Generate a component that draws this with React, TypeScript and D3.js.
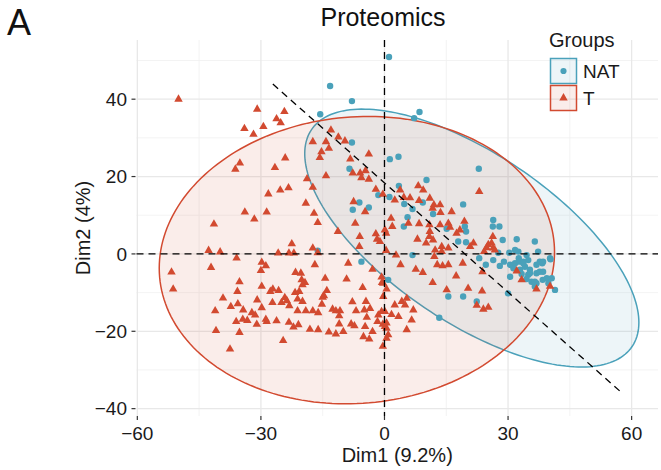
import React from "react";
import * as d3 from "d3";

// PCA individuals, Dim1 / Dim2 scores
const natPoints: [number, number][] = [
  [1.1, 50.9], [-13.2, 43.4], [-7.9, 39.5], [-15.6, 36.1], [-7.9, 28.8], [-8.5, 22.0],
  [1.3, 24.5], [3.4, 25.1], [-6.1, 13.3], [-3.8, 12.0], [-7.7, 11.4], [-1.5, 15.2],
  [1.2, 14.7], [-16.2, 0.8], [-5.6, -2.0], [0.9, -6.7], [8.5, 36.7], [7.2, 35.1],
  [22.9, 22.0], [10.2, 19.1], [3.5, 17.6], [4.8, 12.9], [9.3, 13.3], [6.8, 11.6],
  [19.1, 12.8], [11.8, 10.3], [5.6, 9.5], [4.7, 7.1], [15.1, 6.5], [19.5, 7.1],
  [19.8, 5.8], [17.9, 3.2], [19.8, 3.0], [26.4, 8.8], [26.3, 7.1], [27.9, 7.1],
  [28.7, 3.6], [32.1, 3.8], [36.5, 3.2], [27.6, 0.3], [30.3, 0.3], [31.7, 1.0],
  [32.5, 0.6], [34.5, -0.3], [37.3, 0.6], [40.2, -1.1], [6.8, -0.3], [23.0, -1.1],
  [32.6, -1.1], [24.6, -2.8], [26.4, -1.6], [29.0, -2.0], [28.0, -3.1], [30.5, -2.8],
  [31.7, -2.4], [32.7, -2.0], [33.7, -2.0], [34.9, -1.6], [37.7, -2.0], [38.3, -2.4],
  [36.9, -2.8], [31.3, -3.7], [32.9, -4.1], [34.1, -3.3], [35.3, -4.1], [33.3, -5.2],
  [34.9, -5.4], [36.9, -5.0], [38.5, -4.6], [30.5, -5.9], [34.5, -6.5], [35.7, -7.2],
  [36.9, -7.6], [38.4, -6.7], [39.4, -6.3], [40.6, -6.3], [39.8, -7.6], [41.4, -9.3],
  [36.5, -8.4], [30.0, -10.2], [15.5, -11.0], [19.1, -11.0], [22.4, -12.3], [13.3, -16.5],
  [38.5, -2.0], [40.3, -1.4], [37.7, -4.6], [33.7, -2.4], [35.3, -5.0], [36.5, -7.2],
];

const tPoints: [number, number][] = [
  [-50, 40], [-30.9, 37.4], [-24.3, 36.8], [-26.2, 34.9], [-25.2, 33.9], [-34.0, 32.4],
  [-29.4, 32.9], [-31.8, 30.9], [-13.0, 32.0], [-11.2, 30.2], [-9.6, 29.2], [-17.4, 29.0],
  [-14.2, 29.0], [-13.5, 27.3], [-15.3, 26.4], [-15.7, 24.9], [-3.8, 25.8], [-8.3, 24.5],
  [-24.1, 24.8], [-35.1, 23.5], [-36.2, 21.9], [-26.6, 22.3], [-7.7, 20.9], [-5.9, 20.9],
  [-4.6, 21.5], [-5.6, 19.7], [-3.8, 19.3], [-14.2, 20.2], [-18.8, 19.4], [-17.4, 17.2],
  [-23.3, 17.1], [-25.3, 16.5], [-28.2, 15.5], [-2.1, 16.7], [-0.4, 15.4], [-7.5, 13.5],
  [-19.1, 13.1], [-33.9, 10.8], [-28.6, 10.8], [-31.6, 9.0], [-17.1, 10.5], [-16.2, 8.1],
  [-4.7, 10.9], [-7.1, 7.9], [-41.4, 7.7], [-11.3, 5.8], [-6.0, 4.5], [-2.1, 5.2],
  [-1.8, 3.8], [-1.1, 3.2], [0.4, 5.3], [-22.5, 2.6], [-6.1, 1.9], [-17.4, 1.5],
  [-42.7, 0.9], [-39.9, 0.5], [-25.8, 0.2], [-23.2, 0.2], [-22.0, 0.2], [-16.2, 0.3],
  [-35.9, -1.1], [-16.9, -2.8], [-8.8, -2.4], [-2.9, -4.0], [-51.7, -4.7], [-42.1, -3.5],
  [-29.8, -2.2], [-30.0, -4.3], [-28.8, -3.1], [-21.6, -4.8], [-20.3, -5.0], [-20.1, -6.7],
  [-19.3, -7.4], [-19.9, -8.0], [-14.4, -6.3], [-9.2, -6.5], [-0.6, -7.4], [-51.3, -9.1],
  [-35.2, -7.2], [-35.7, -9.7], [-29.8, -8.4], [-27.7, -9.7], [-27.1, -9.1], [-25.7, -9.5],
  [-21.7, -10.0], [-20.7, -9.7], [-14.0, -9.5], [-14.7, -10.8], [-5.3, -8.7], [0.5, -9.1],
  [-39.2, -11.4], [-35.6, -12.9], [-37.3, -13.6], [-30.9, -11.9], [-29.8, -13.9], [-27.2, -12.6],
  [-25.0, -12.6], [-24.2, -11.3], [-23.7, -12.1], [-23.1, -13.4], [-21.1, -11.7], [-19.9, -12.3],
  [-15.0, -11.2], [-15.2, -13.0], [-7.8, -12.4], [-4.5, -12.3], [-41.1, -14.7], [-34.3, -14.5],
  [-32.2, -15.2], [-31.4, -15.8], [-21.1, -14.7], [-19.1, -14.7], [-17.4, -14.7], [-16.1, -15.2],
  [-12.6, -14.3], [-11.8, -14.7], [-10.8, -14.7], [-11.0, -16.0], [-6.9, -14.7], [-4.9, -14.5],
  [-3.5, -14.1], [-4.3, -16.4], [-1.5, -15.8], [0.1, -14.9], [-36.0, -17.5], [-34.4, -16.9],
  [-33.3, -17.2], [-31.0, -18.2], [-28.8, -16.9], [-28.6, -17.5], [-26.2, -17.3], [-23.2, -17.7],
  [-22.1, -18.9], [-20.9, -18.3], [-18.1, -19.5], [-16.1, -19.6], [-13.5, -20.2], [-11.8, -20.7],
  [-11.0, -18.1], [-10.0, -20.1], [-8.1, -18.1], [-7.3, -18.6], [-4.7, -18.8], [-1.7, -17.5],
  [-0.4, -18.2], [0.5, -19.2], [-2.9, -20.1], [-5.1, -21.4], [-3.7, -22.0], [0.5, -21.8],
  [-40.9, -19.8], [-35.2, -20.3], [-37.5, -24.6], [-24.6, -22.4], [-0.4, -23.9],
  [23.0, 16.1], [8.2, 17.6], [9.4, 16.5], [3.8, 16.5], [6.2, 14.5], [4.7, 14.6],
  [2.5, 13.9], [11.0, 14.4], [8.4, 13.8], [12.0, 12.7], [11.7, 11.8], [13.5, 12.7],
  [13.6, 10.7], [16.3, 10.9], [1.6, 9.2], [1.9, 7.1], [5.8, 7.9], [8.4, 7.8],
  [10.9, 7.5], [13.5, 7.5], [15.5, 7.9], [15.9, 6.9], [18.3, 6.2], [19.4, 8.4],
  [0.1, 6.2], [11.0, 5.8], [10.9, 4.5], [8.0, 3.8], [11.8, 3.6], [10.1, 2.8],
  [13.9, 1.9], [13.9, 0.6], [20.8, 1.9], [21.6, 2.8], [26.3, 4.5], [26.0, 2.8],
  [24.8, 1.6], [24.2, 0.6], [26.4, 1.5], [2.8, -0.3], [12.1, -0.7],
  [15.5, 1.5], [12.3, 1.0], [17.5, 5.3], [25.2, 2.4], [26.8, 1.0], [3.9, -2.8],
  [7.6, -4.0], [9.3, -4.8], [12.8, -2.8], [14.1, -3.1], [15.5, -2.8], [11.7, -7.4],
  [17.4, -5.7], [19.0, -2.4], [20.3, -8.9], [15.1, -9.3], [23.7, -9.6], [23.8, -4.6],
  [24.0, -14.3], [25.2, -13.8], [22.4, -13.3], [33.3, -6.7], [36.9, -9.1], [40.2, -8.4],
  [32.1, -4.4], [0.4, 0.9], [-0.7, -6.0], [-0.3, -7.6], [-0.3, -11.0], [2.5, -13.2],
  [4.2, -12.3], [5.0, -13.2], [5.4, -11.5], [7.0, -14.5], [6.6, -17.1], [3.4, -16.2],
  [1.7, -15.7], [0.5, -17.9], [0.1, -18.8], [5.4, -19.6], [0.9, -20.9], [-0.7, -14.9],
];

// concentration ellipses: centre and covariance (sxx, sxy, syy), per group
const groups = ["NAT", "T"];
const groupColors = ["#4aa1ba", "#d24a30"];
const ellipseCenters: [number, number][] = [[21.2, 4.1], [-6.7, -1.6]];
const ellipseCov: [number, number, number][] = [[1645, -885, 1111], [2302, 100, 1380]];

// fitted dashed line (start and end in data units)
const trendLine: [number, number][] = [[-27.1, 43.9], [57.4, -35.7]];

const xTicks = [-60, -30, 0, 30, 60];
const xMinor = [-45, -15, 15, 45];
const yTicks = [-40, -20, 0, 20, 40];
const yMinor = [-30, -10, 10, 30, 50];

const W = 661, H = 470;
const left = 136.5, right = 658, top = 40, bottom = 416;

const x = d3.scaleLinear().domain([-60.2, 66.4]).range([left, right]);
const y = d3.scaleLinear().domain([-41.9, 55.3]).range([bottom, top]);

const font = "'Liberation Sans', Arial, Helvetica, sans-serif";

function ellipsePath(c: [number, number], s: [number, number, number]) {
  const l11 = Math.sqrt(s[0]);
  const l21 = s[1] / l11;
  const l22 = Math.sqrt(s[2] - l21 * l21);
  const pts = d3.range(0, 200).map((i) => {
    const t = (i / 200) * Math.PI * 2;
    return [c[0] + l11 * Math.cos(t), c[1] + l21 * Math.cos(t) + l22 * Math.sin(t)];
  });
  return d3
    .line<number[]>()
    .x((d) => x(d[0]))
    .y((d) => y(d[1]))
    .curve(d3.curveLinearClosed)(pts) as string;
}

const tri = d3.symbol(d3.symbolTriangle, 31)() as string;

export default function App() {
  return (
    <svg
      width={W}
      height={H}
      style={{ position: "absolute", left: 0, top: 0, background: "#fff" }}
      fontFamily={font}
    >
      {/* grid */}
      <g>
        {xMinor.map((v) => (
          <line key={"xm" + v} x1={x(v)} x2={x(v)} y1={top} y2={bottom} stroke="#f0f0f0" strokeWidth={0.8} />
        ))}
        {yMinor.map((v) => (
          <line key={"ym" + v} x1={left} x2={right} y1={y(v)} y2={y(v)} stroke="#f0f0f0" strokeWidth={0.8} />
        ))}
        {xTicks.map((v) => (
          <line key={"xg" + v} x1={x(v)} x2={x(v)} y1={top} y2={bottom} stroke="#e8e8e8" strokeWidth={1.3} />
        ))}
        {yTicks.map((v) => (
          <line key={"yg" + v} x1={left} x2={right} y1={y(v)} y2={y(v)} stroke="#e8e8e8" strokeWidth={1.3} />
        ))}
      </g>

      {/* ellipses */}
      {groups.map((g, i) => (
        <path
          key={"el" + g}
          d={ellipsePath(ellipseCenters[i], ellipseCov[i])}
          fill={groupColors[i]}
          fillOpacity={0.1}
          stroke={groupColors[i]}
          strokeWidth={1.5}
        />
      ))}

      {/* points */}
      <g>
        {natPoints.map((d, i) => (
          <circle key={"n" + i} cx={x(d[0])} cy={y(d[1])} r={3.2} fill={groupColors[0]} />
        ))}
        {tPoints.map((d, i) => (
          <path key={"t" + i} d={tri} transform={`translate(${x(d[0])},${y(d[1])})`} fill={groupColors[1]} />
        ))}
      </g>

      {/* reference lines */}
      <line x1={left} x2={right} y1={y(0)} y2={y(0)} stroke="#000" strokeWidth={1.3} strokeDasharray="7,5" />
      <line x1={x(0)} x2={x(0)} y1={top} y2={bottom} stroke="#000" strokeWidth={1.3} strokeDasharray="7,5" />
      <line
        x1={x(trendLine[0][0])}
        y1={y(trendLine[0][1])}
        x2={x(trendLine[1][0])}
        y2={y(trendLine[1][1])}
        stroke="#000"
        strokeWidth={1.3}
        strokeDasharray="7,5"
      />

      {/* axes */}
      <g fontSize={19} fill="#1a1a1a">
        {xTicks.map((v) => (
          <g key={"xt" + v}>
            <line x1={x(v)} x2={x(v)} y1={bottom} y2={bottom + 4} stroke="#333" strokeWidth={1.2} />
            <text x={x(v)} y={440} textAnchor="middle">
              {v < 0 ? "\u2212" + Math.abs(v) : v}
            </text>
          </g>
        ))}
        {yTicks.map((v) => (
          <g key={"yt" + v}>
            <line x1={left - 5} x2={left - 1} y1={y(v)} y2={y(v)} stroke="#333" strokeWidth={1.2} />
            <text x={127} y={y(v)} dy="0.35em" textAnchor="end">
              {v < 0 ? "\u2212" + Math.abs(v) : v}
            </text>
          </g>
        ))}
      </g>
      <text x={(left + right) / 2} y={462} textAnchor="middle" fontSize={20} fill="#1a1a1a">
        Dim1 (9.2%)
      </text>
      <text
        transform={`translate(90,${(top + bottom) / 2}) rotate(-90)`}
        textAnchor="middle"
        fontSize={20}
        fill="#1a1a1a"
      >
        Dim2 (4%)
      </text>

      {/* titles */}
      <text x={383} y={26} textAnchor="middle" fontSize={25} fill="#111">
        Proteomics
      </text>
      <text x={7} y={35} fontSize={36} fill="#111">
        A
      </text>

      {/* legend */}
      <g>
        <text x={549} y={47} fontSize={20} fill="#1a1a1a">
          Groups
        </text>
        {groups.map((g, i) => {
          const by = 58.5 + i * 27;
          return (
            <g key={"lg" + g}>
              <rect
                x={550.5}
                y={by}
                width={26}
                height={25}
                fill={groupColors[i]}
                fillOpacity={0.1}
                stroke={groupColors[i]}
                strokeWidth={1.5}
              />
              {i === 0 ? (
                <circle cx={563.5} cy={by + 12.5} r={3.1} fill={groupColors[0]} />
              ) : (
                <path d={tri} transform={`translate(563.5,${by + 12.5})`} fill={groupColors[1]} />
              )}
              <text x={583} y={by + 12.5} dy="0.35em" fontSize={19} fill="#1a1a1a">
                {g}
              </text>
            </g>
          );
        })}
      </g>
    </svg>
  );
}
